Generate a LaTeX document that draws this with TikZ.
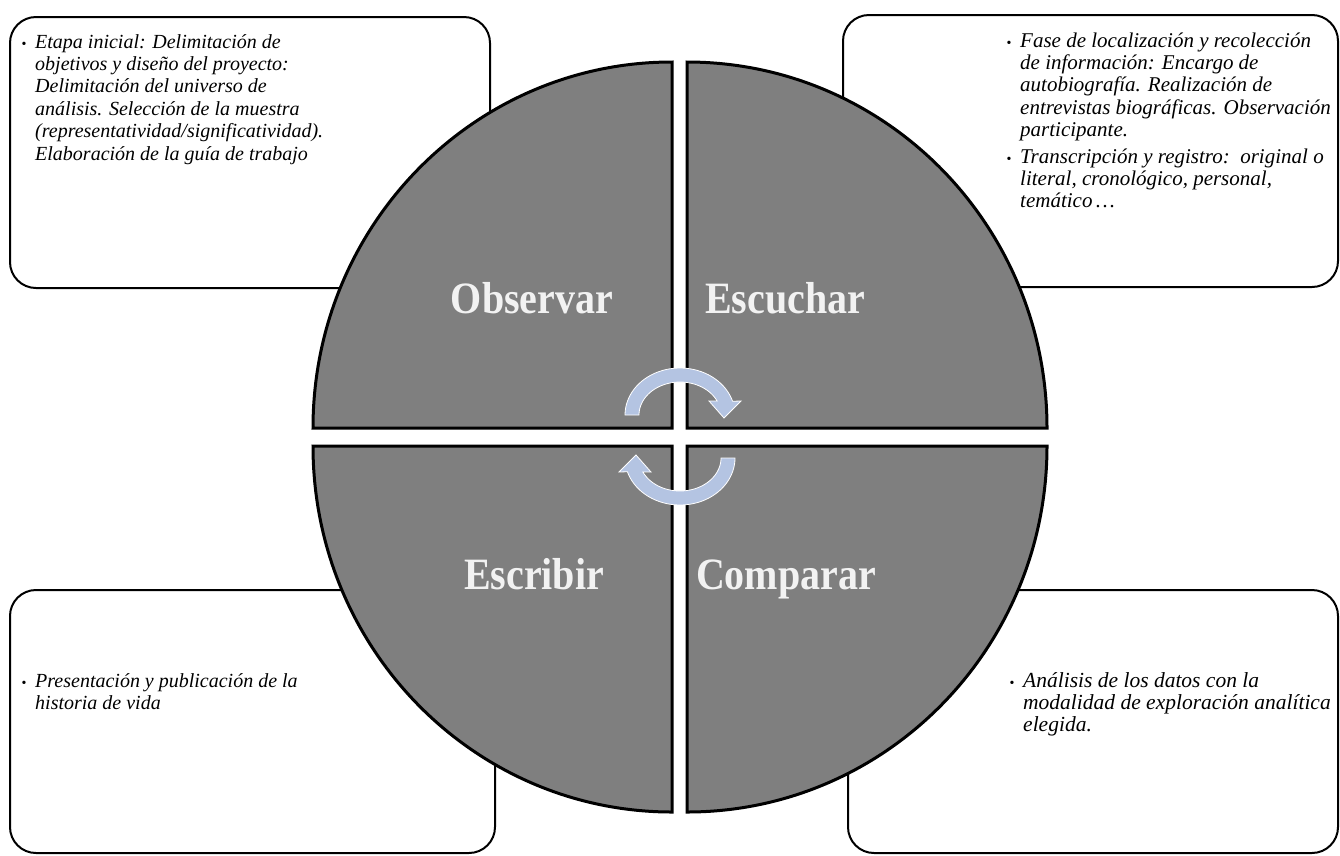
\documentclass[tikz,border=0pt]{standalone}
\usepackage{fontspec}
\setmainfont{Liberation Serif}
\usepackage{graphicx}
\definecolor{quadgray}{RGB}{127,127,127}
\definecolor{labelgray}{RGB}{242,242,242}
\definecolor{arrowblue}{RGB}{180,196,226}
\tikzset{
  infobox/.style={draw=black, line width=2pt, rounded corners=26pt, fill=white},
  quad/.style={draw=black, line width=3pt, fill=quadgray, line join=miter},
  phase/.style={text=labelgray, font=\fontsize{40}{44}\selectfont\bfseries, inner sep=0pt, anchor=base},
  bodytext/.style={anchor=base west, inner sep=0pt},
  bulletmark/.style={anchor=base, inner sep=0pt, font=\fontsize{14}{16}\selectfont},
  cyclearrow/.style={fill=arrowblue, draw=white, line width=0.8pt}
}
\newcommand{\boxtext}[2]{\parbox[t]{420pt}{\raggedright\fontsize{#1}{22.4}\selectfont\itshape\noindent #2}}
\newcommand{\tall}[1]{\scalebox{1}[1.12]{#1}}
\begin{document}
\begin{tikzpicture}[x=1pt,y=-1pt]
\useasboundingbox (0,0) rectangle (1340,855);
% boxes
\draw[infobox] (10,17) rectangle (490,288);
\draw[infobox] (843,15) rectangle (1338,287);
\draw[infobox] (10,590) rectangle (495,853);
\draw[infobox] (848,590) rectangle (1338,853);
% quadrants
\draw[quad] (672,428) -- (313,428) arc[start angle=180, end angle=90, x radius=359pt, y radius=366pt] -- cycle;
\draw[quad] (687,428) -- (687,62) arc[start angle=90, end angle=0, x radius=360pt, y radius=366pt] -- cycle;
\draw[quad] (687,446) -- (1047,446) arc[start angle=0, end angle=-90, x radius=360pt, y radius=366pt] -- cycle;
\draw[quad] (672,446) -- (672,812) arc[start angle=-90, end angle=-180, x radius=359pt, y radius=366pt] -- cycle;
% labels
\node[phase] (obs) at (532,313) {\tall{Observar}};
\node[phase] (esc) at (785,313) {\tall{Escuchar}};
\node[phase] (esb) at (534,589) {\tall{Escribir}};
\node[phase] (com) at (786,589) {\tall{Comparar}};
% cycle arrows
\fill[cyclearrow] plot[domain=180:17, samples=40] ({680+55*cos(\x)}, {415-47*sin(\x)})
  -- (741,401) -- (724,418) -- (709,401)
  -- plot[domain=25:180, samples=40] ({680+41*cos(\x)}, {415-33*sin(\x)}) -- cycle;
\begin{scope}[rotate around={180:(680,436.5)}]
\fill[cyclearrow] plot[domain=180:17, samples=40] ({680+55*cos(\x)}, {415-47*sin(\x)})
  -- (741,401) -- (724,418) -- (709,401)
  -- plot[domain=25:180, samples=40] ({680+41*cos(\x)}, {415-33*sin(\x)}) -- cycle;
\end{scope}
% texts
\node[bulletmark] (b1) at (24,48) {•};
\node[bodytext] (t1) at (35,48) {\boxtext{20}{Etapa inicial: Delimitación de\\objetivos y diseño del proyecto:\\Delimitación del universo de\\análisis. Selección de la muestra\\(representatividad/significatividad).\\Elaboración de la guía de trabajo}};
\node[bulletmark] (b2) at (1009,47) {•};
\node[bodytext] (t2) at (1020,47) {\boxtext{21}{Fase de localización y recolección\\de información: Encargo de\\autobiografía. Realización de\\entrevistas biográficas. Observación\\participante.}};
\node[bulletmark] (b3) at (1009,163) {•};
\node[bodytext] (t3) at (1020,163) {\boxtext{21}{Transcripción y registro:\ \ original o\\literal, cronológico, personal,\\temático\,…}};
\node[bulletmark] (b4) at (24,687) {•};
\node[bodytext] (t4) at (35,687) {\boxtext{20}{Presentación y publicación de la\\historia de vida}};
\node[bulletmark] (b5) at (1012,687) {•};
\node[bodytext] (t5) at (1023,687) {\boxtext{21.5}{Análisis de los datos con la\\modalidad de exploración analítica\\elegida.}};
\end{tikzpicture}
\end{document}
